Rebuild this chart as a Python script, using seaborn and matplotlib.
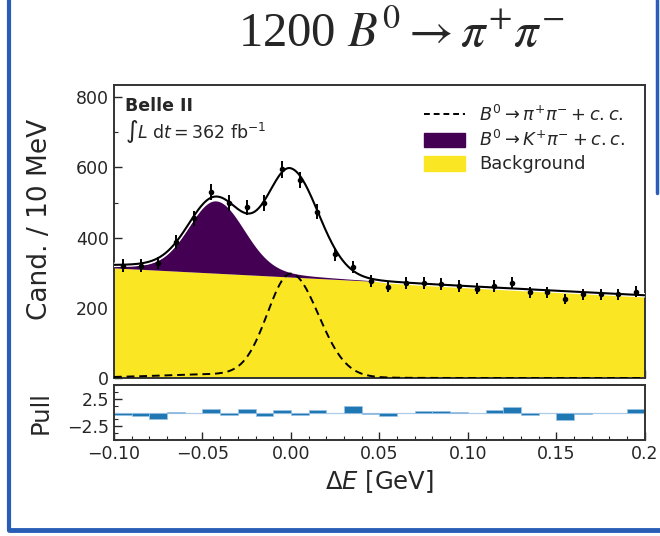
import numpy as np
import pandas as pd
import matplotlib
matplotlib.use("Agg")
import matplotlib.pyplot as plt
import matplotlib.patheffects as pe
from matplotlib.lines import Line2D
from matplotlib.patches import Patch
from matplotlib.ticker import MultipleLocator
import seaborn as sns

# ---------------- data ----------------
bin_centers = [-0.095, -0.085, -0.075, -0.065, -0.055, -0.045, -0.035, -0.025, -0.015, -0.005,
               0.005, 0.015, 0.025, 0.035, 0.045, 0.055, 0.065, 0.075, 0.085, 0.095,
               0.105, 0.115, 0.125, 0.135, 0.145, 0.155, 0.165, 0.175, 0.185, 0.195]
counts = [320, 320, 328, 388, 455, 529, 499, 486, 498, 595,
          564, 474, 352, 317, 276, 260, 270, 271, 268, 262,
          255, 262, 270, 244, 244, 225, 239, 239, 239, 246]
pulls = [-0.4, -0.7, -1.2, 0.1, 0.0, 0.7, -0.4, 0.7, -0.7, 0.4,
         -0.4, 0.5, 0.0, 1.2, -0.2, -0.7, 0.0, 0.3, 0.3, 0.1,
         -0.1, 0.4, 1.0, -0.4, -0.1, -1.3, -0.3, -0.1, 0.0, 0.6]

# fit-model parameters
bg_at_zero = 287.7
bg_slope = -260.0
kpi_core = dict(amp=194.0, mu=-0.0425, sl=0.015, sr=0.0158)
kpi_tail = dict(amp=12.0, mu=-0.045, s=0.045)
pipi_core = dict(amp=290.0, mu=0.0, sl=0.0132, sr=0.0155)
pipi_tail = dict(amp=11.0, mu=-0.035, s=0.04)

title_text = r"1200 $B^0 \rightarrow \pi^{+}\pi^{-}$"
legend_labels = [r"$B^0 \to \pi^{+}\pi^{-} + c.c.$",
                 r"$B^0 \to K^{+}\pi^{-} + c.c.$",
                 "Background"]
purple = "#440154"
yellow = "#fae622"


def bifur(x, amp, mu, sl, sr):
    s = np.where(x < mu, sl, sr)
    return amp * np.exp(-0.5 * ((x - mu) / s) ** 2)


def gauss(x, amp, mu, s):
    return amp * np.exp(-0.5 * ((x - mu) / s) ** 2)


x = np.linspace(-0.1, 0.2, 600)
bg = bg_at_zero + bg_slope * x
kpi = bifur(x, **kpi_core) + gauss(x, **kpi_tail)
pipi = bifur(x, **pipi_core) + gauss(x, **pipi_tail)
total = bg + kpi + pipi

curves = pd.DataFrame({"x": x, "total": total, "pipi": pipi})

# ---------------- figure ----------------
sns.set_style("ticks")
plt.rcParams["font.family"] = ["DejaVu Sans"]
plt.rcParams["mathtext.fontset"] = "dejavusans"

fig = plt.figure(figsize=(6.6, 5.36), dpi=100)
ax = fig.add_axes([0.1727, 0.2948, 0.8043, 0.5466])
axp = fig.add_axes([0.1727, 0.179, 0.8043, 0.1027], sharex=ax)

# components
ax.fill_between(x, 0, bg, color=yellow, lw=0, zorder=1)
ax.fill_between(x, bg, bg + kpi, color=purple, lw=0, zorder=1)
sns.lineplot(data=curves, x="x", y="pipi", ax=ax, color="black", lw=1.4,
             linestyle=(0, (4, 2.5)), zorder=3)
sns.lineplot(data=curves, x="x", y="total", ax=ax, color="black", lw=1.5, zorder=4,
             path_effects=[pe.Stroke(linewidth=3.2, foreground="white"), pe.Normal()])

# data points
ax.errorbar(bin_centers, counts, yerr=np.sqrt(counts), fmt="o", ms=3.0,
            color="black", ecolor="black", elinewidth=1.4, capsize=0, zorder=5)

ax.set_xlim(-0.1, 0.2)
ax.set_ylim(0, 835)
ax.set_yticks([0, 200, 400, 600, 800])
ax.yaxis.set_minor_locator(MultipleLocator(100))
ax.xaxis.set_minor_locator(MultipleLocator(0.01))
ax.set_ylabel("Cand. / 10 MeV", fontsize=19)
ax.set_xlabel("")
ax.tick_params(axis="both", which="both", direction="in", top=False, right=False,
               labelsize=12.5)
ax.tick_params(axis="both", which="major", length=6, width=1.0)
ax.tick_params(axis="both", which="minor", length=3, width=0.8)
ax.tick_params(axis="x", labelbottom=False)

ax.text(0.02, 0.93, "Belle II", transform=ax.transAxes, fontsize=12.5,
        fontweight="bold", va="center", ha="left")
ax.text(0.02, 0.84, r"$\int L\;\mathrm{d}t = 362\ \mathrm{fb}^{-1}$",
        transform=ax.transAxes, fontsize=12.5, va="center", ha="left")

handles = [Line2D([0], [0], color="black", lw=1.4, linestyle=(0, (3, 2))),
           Patch(facecolor=purple, edgecolor=purple),
           Patch(facecolor=yellow, edgecolor=yellow)]
ax.legend(handles, legend_labels, loc="upper right", frameon=False, fontsize=12.8,
          handlelength=2.3, handleheight=0.9, borderaxespad=0.9, labelspacing=0.3,
          borderpad=0.2)

# pull panel
axp.bar(bin_centers, pulls, width=0.01, color="#1f77b4", edgecolor="#9cc3e4",
        linewidth=0.5, zorder=2)
axp.axhline(0, color="#cfe0f0", lw=1.0, zorder=1)
axp.set_ylim(-5, 5)
axp.set_yticks([-2.5, 2.5])
axp.set_yticklabels(["\u22122.5", "2.5"])
axp.yaxis.set_minor_locator(MultipleLocator(1.25))
axp.set_xticks([-0.1, -0.05, 0.0, 0.05, 0.1, 0.15, 0.2])
axp.set_xticklabels(["\u22120.10", "\u22120.05", "0.00", "0.05", "0.10", "0.15", "0.2"])
axp.set_ylabel("Pull", fontsize=17.5)
axp.set_xlabel(r"$\Delta E$ [GeV]", fontsize=17.5)
axp.tick_params(axis="both", which="both", direction="in", top=False, right=False,
                labelsize=12.5)
axp.tick_params(axis="both", which="major", length=6, width=1.0)
axp.tick_params(axis="both", which="minor", length=3, width=0.8)
axp.yaxis.set_label_coords(-0.115, 0.5)
ax.yaxis.set_label_coords(-0.115, 0.54)

for a in (ax, axp):
    for sp in a.spines.values():
        sp.set_color("#333333")
        sp.set_linewidth(1.4)

# title
fig.text(0.607, 0.937, title_text, fontsize=35, ha="center", va="center",
         family=["Liberation Serif", "DejaVu Serif"], math_fontfamily="stix")

# sketchy blue frame
frame_color = "#2a5db5"
fig.add_artist(Line2D([0.013, 0.013], [0.012, 1.0], color=frame_color, lw=3.0,
                      transform=fig.transFigure))
fig.add_artist(Line2D([0.013, 1.0], [0.012, 0.012], color=frame_color, lw=3.5,
                      transform=fig.transFigure))
fig.add_artist(Line2D([0.995, 0.995], [0.64, 1.0], color=frame_color, lw=2.5,
                      transform=fig.transFigure))

fig.savefig("out.png", dpi=100)
